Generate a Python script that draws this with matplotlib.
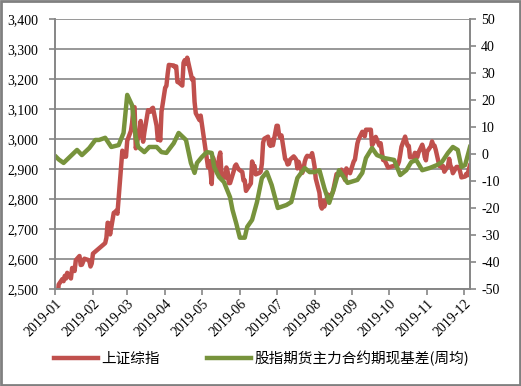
import numpy as np
import pandas as pd
import matplotlib
matplotlib.use("Agg")
from matplotlib import pyplot as plt
import matplotlib.dates as mdates
from matplotlib.ticker import FuncFormatter, MultipleLocator
from matplotlib.patches import Rectangle

# trading days of 2019 (weekdays minus exchange holidays)
holidays = ["2019-01-01", "2019-02-04", "2019-02-05", "2019-02-06", "2019-02-07",
            "2019-02-08", "2019-04-05", "2019-05-01", "2019-05-02", "2019-05-03",
            "2019-06-07", "2019-09-13", "2019-10-01", "2019-10-02", "2019-10-03",
            "2019-10-04", "2019-10-07"]
sse_dates = pd.bdate_range("2019-01-02", "2019-12-06", freq="C", holidays=holidays)

sse_close = [
    # Jan
    2465, 2464, 2515, 2533, 2526, 2544, 2535, 2554, 2535, 2570, 2570, 2560, 2596, 2610,
    2580, 2581, 2591, 2601, 2597, 2594, 2575, 2585,
    # Feb
    2618, 2653, 2671, 2721, 2719, 2682, 2754, 2755, 2761, 2751, 2804, 2961, 2941, 2954, 2941,
    # Mar
    2994, 3027, 3054, 3102, 3106, 2969, 3026, 3060, 3027, 2991, 3022, 3096, 3091, 3091,
    3101, 3104, 3044, 2997, 3023, 2995, 3091,
    # Apr
    3171, 3177, 3216, 3247, 3245, 3239, 3242, 3190, 3189, 3178, 3254, 3263, 3251, 3271,
    3216, 3198, 3202, 3124, 3086, 3063, 3078,
    # May
    2906, 2926, 2893, 2850, 2939, 2903, 2884, 2938, 2955, 2882, 2871, 2905, 2892, 2853,
    2853, 2893, 2910, 2915, 2906, 2899,
    # Jun
    2890, 2862, 2862, 2827, 2852, 2925, 2910, 2910, 2882, 2887, 2891, 2918, 2988, 3001,
    3008, 2982, 2977, 2997, 2979,
    # Jul
    3044, 3044, 3015, 3005, 3012, 2933, 2929, 2915, 2917, 2931, 2942, 2937, 2931, 2902,
    2924, 2887, 2899, 2924, 2937, 2944, 2941, 2953, 2933,
    # Aug
    2909, 2868, 2821, 2778, 2768, 2794, 2775, 2815, 2797, 2808, 2815, 2824, 2883, 2880,
    2880, 2884, 2898, 2863, 2902, 2894, 2890, 2886,
    # Sep
    2925, 2931, 2958, 2985, 2999, 3024, 3022, 3009, 3031, 3031, 2979, 2986, 2999, 3007,
    2978, 2986, 2956, 2930, 2932, 2905,
    # Oct
    2914, 2925, 2948, 2974, 3008, 2991, 2978, 2977, 2939, 2940, 2954, 2941, 2940, 2955,
    2981, 2966, 2940, 2929,
    # Nov
    2958, 2976, 2992, 2979, 2978, 2964, 2910, 2915, 2905, 2910, 2891, 2910, 2934, 2911,
    2904, 2886, 2907, 2907, 2904, 2890, 2872,
    # Dec
    2875, 2884, 2879, 2899, 2912,
]

basis_dates = [
    "2019-01-02", "2019-01-04", "2019-01-08", "2019-01-19", "2019-01-23", "2019-01-29",
    "2019-02-03", "2019-02-06", "2019-02-11", "2019-02-16", "2019-02-22", "2019-02-26",
    "2019-03-01", "2019-03-05", "2019-03-08", "2019-03-10", "2019-03-15", "2019-03-19",
    "2019-03-25", "2019-03-29", "2019-04-02", "2019-04-08", "2019-04-12", "2019-04-18",
    "2019-04-22", "2019-04-25", "2019-04-27", "2019-05-01", "2019-05-05", "2019-05-09",
    "2019-05-11", "2019-05-15", "2019-05-19", "2019-05-24", "2019-05-26", "2019-05-29",
    "2019-06-01", "2019-06-05", "2019-06-07", "2019-06-11", "2019-06-15", "2019-06-19",
    "2019-06-23", "2019-06-27", "2019-07-02", "2019-07-09", "2019-07-13", "2019-07-18",
    "2019-07-24", "2019-07-28", "2019-08-01", "2019-08-05", "2019-08-09", "2019-08-13",
    "2019-08-17", "2019-08-21", "2019-08-28", "2019-09-05", "2019-09-09", "2019-09-12",
    "2019-09-17", "2019-09-21", "2019-09-27", "2019-10-05", "2019-10-10", "2019-10-15",
    "2019-10-19", "2019-10-23", "2019-10-28", "2019-11-03", "2019-11-09", "2019-11-13",
    "2019-11-18", "2019-11-22", "2019-11-26", "2019-11-29", "2019-12-02", "2019-12-06",
]
basis_values = [
    -1.1, -2.0, -3.3, 1.5, -0.4, 2.2,
    5.2, 5.2, 6.0, 2.6, 3.3, 7.8,
    21.9, 18.0, 6.3, 2.6, 0.7, 2.6,
    2.6, 0.7, 0.4, 4.0, 7.8, 5.2,
    -3.3, -7.0, -3.3, -1.1, 0.7, 0.4,
    -4.8, -8.5, -10.4, -16.0, -20.7, -25.6,
    -31.0, -31.0, -27.0, -24.4, -17.8, -8.9,
    -6.7, -11.5, -20.0, -18.9, -17.8, -8.9,
    -5.2, -6.7, -6.7, -6.0, -12.6, -18.1,
    -12.6, -6.0, -10.7, -9.6, -7.0, -1.5,
    2.2, -0.4, -1.5, -2.2, -7.8, -6.0,
    -3.0, -2.2, -6.0, -5.2, -4.1, -3.0,
    0.4, 2.6, 1.5, -4.8, -4.1, 2.6,
]

red = "#C0504D"
green = "#77933C"
gray = "#868686"

plt.rcParams["font.family"] = ["Liberation Serif", "Noto Sans CJK SC"]

fig = plt.figure(figsize=(5.21, 3.86), dpi=100)
ax = fig.add_axes([55 / 521, 97 / 386, 415 / 521, 270 / 386])

ax.plot(sse_dates, sse_close, color=red, lw=3.2, label="上证综指")
ax.set_ylim(2500, 3400)
ax.set_xlim(pd.Timestamp("2019-01-01"), pd.Timestamp("2019-12-06"))
ax.yaxis.set_major_locator(MultipleLocator(100))
ax.yaxis.set_major_formatter(FuncFormatter(lambda v, p: f"{int(v):,}"))
ax.grid(axis="y", color=gray, lw=1.2)
ax.set_axisbelow(True)

ax.xaxis.set_major_locator(mdates.MonthLocator())
ax.xaxis.set_major_formatter(mdates.DateFormatter("%Y-%m"))
ax.tick_params(axis="x", length=4, color=gray, width=1.2, pad=2, labelsize=10)
ax.tick_params(axis="y", length=4, color=gray, width=1.2, pad=8, labelsize=10)
for lab in ax.get_xticklabels():
    lab.set_rotation(45)
    lab.set_ha("right")
    lab.set_va("top")
    lab.set_rotation_mode("anchor")

ax2 = ax.twinx()
ax2.plot(pd.to_datetime(basis_dates), basis_values, color=green, lw=3.2,
         label="股指期货主力合约期现基差(周均)")
ax2.set_ylim(-50, 50)
ax2.yaxis.set_major_locator(MultipleLocator(10))
ax2.yaxis.set_major_formatter(FuncFormatter(lambda v, p: f"{int(round(v))}"))
ax2.tick_params(axis="y", length=4, color=gray, width=1.2, pad=4, labelsize=10)

for a in (ax, ax2):
    a.spines["top"].set_visible(False)
    for s in ("left", "right", "bottom"):
        a.spines[s].set_color(gray)
        a.spines[s].set_linewidth(1.2)

h1, l1 = ax.get_legend_handles_labels()
h2, l2 = ax2.get_legend_handles_labels()
fig.legend(h1 + h2, l1 + l2, loc="center", bbox_to_anchor=(0.502, 0.0725), ncol=2,
           frameon=False, handlelength=3.0, handletextpad=0.2, columnspacing=3.3,
           prop={"family": ["Noto Sans CJK SC", "DejaVu Sans"], "size": 10.5})

# outer chart border
fig.patches.append(Rectangle((0.002, 0.003), 0.996, 0.994, transform=fig.transFigure,
                             fill=False, ec="#808080", lw=2))

plt.savefig("out.png", dpi=100)
